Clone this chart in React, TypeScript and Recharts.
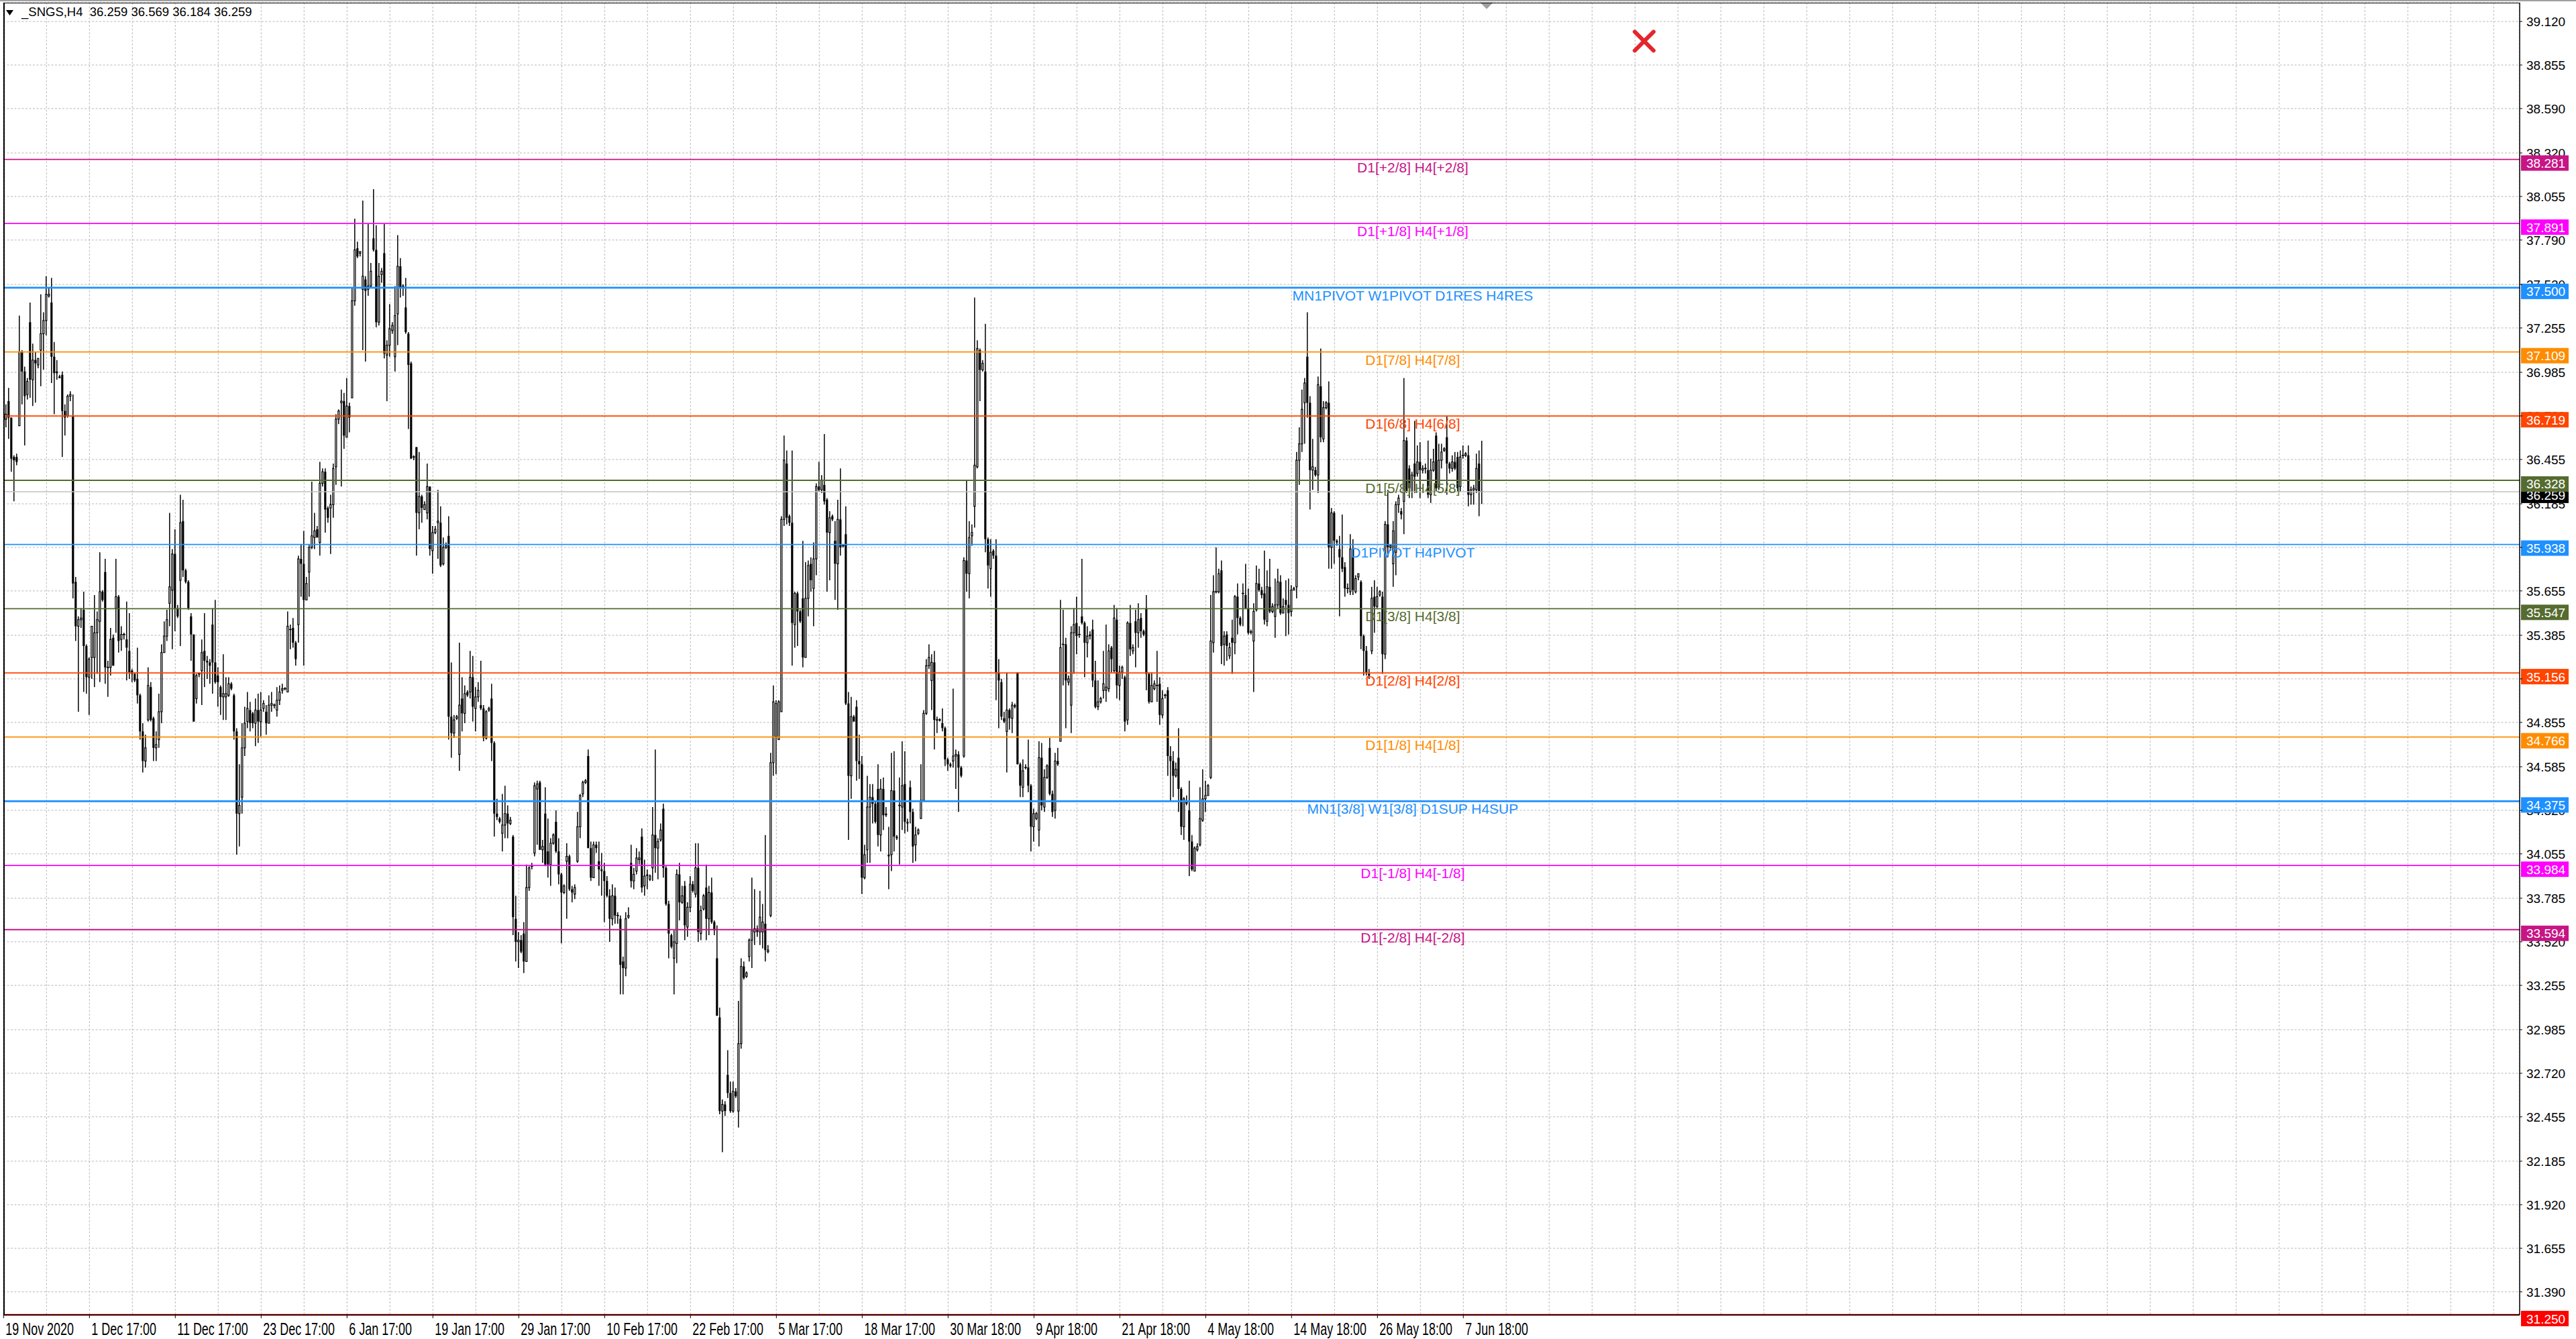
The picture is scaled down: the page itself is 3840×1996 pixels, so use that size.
import React from 'react';
import {
  ComposedChart, Bar, XAxis, YAxis, CartesianGrid, ReferenceLine, ReferenceDot
} from 'recharts';

// H4 candles of _SNGS (bar 0 = 19 Nov 2020)
const opens = [
  36.90,36.70,36.81,36.71,36.47,36.47,36.66,37.11,36.99,36.85,
  37.29,36.94,37.06,37.03,37.12,37.22,37.30,37.45,37.41,37.08,
  36.99,36.96,36.97,36.75,36.72,36.84,36.72,35.71,35.44,35.48,
  35.54,35.32,35.13,35.25,35.25,35.40,35.47,35.65,35.77,35.19,
  35.19,35.37,35.55,35.62,35.36,35.39,35.36,35.29,35.17,35.15,
  35.12,35.02,34.80,34.62,34.87,35.07,34.88,34.70,34.75,34.92,
  35.28,35.38,35.58,35.66,35.88,35.55,35.72,36.08,35.78,35.71,
  35.50,35.39,35.00,35.15,35.17,35.29,35.23,35.22,35.45,35.22,
  35.14,35.07,35.01,35.01,35.02,35.09,35.02,34.80,34.30,34.40,
  34.70,34.86,34.93,34.91,34.85,34.93,34.86,34.94,34.92,34.85,
  34.96,34.96,34.93,34.99,35.05,35.06,35.04,35.42,35.43,35.34,
  35.45,35.85,35.82,35.60,35.77,35.92,35.98,36.03,35.95,36.31,
  36.38,36.16,36.16,36.18,36.41,36.70,36.80,36.81,36.59,36.78,
  36.83,37.42,37.74,37.71,37.49,37.55,37.49,37.51,37.80,37.73,
  37.29,37.58,37.71,37.09,37.15,37.24,37.08,37.34,37.63,37.50,
  37.38,37.22,37.04,36.47,36.53,36.13,36.23,36.15,36.13,36.29,
  35.90,36.01,36.07,36.07,35.82,35.92,35.99,34.89,34.79,34.88,
  34.66,35.00,34.91,35.04,35.04,35.13,34.94,35.01,34.96,34.94,
  34.76,34.93,35.00,34.73,34.30,34.27,34.18,34.23,34.30,34.24,
  34.16,33.66,33.52,33.53,33.57,33.40,33.85,33.98,34.06,34.45,
  34.49,34.08,34.30,34.07,33.99,34.12,34.25,34.07,33.93,33.82,
  34.01,34.04,33.84,33.81,34.01,34.22,34.42,34.49,34.65,34.09,
  33.91,34.11,34.01,33.96,33.95,33.89,33.80,33.66,33.80,33.68,
  33.66,33.40,33.36,33.67,34.00,33.89,33.95,34.02,34.16,33.86,
  33.93,33.90,33.97,34.17,34.09,34.14,34.33,33.97,33.75,33.56,
  33.42,33.51,33.93,33.76,33.86,33.61,33.73,33.87,33.81,33.97,
  33.57,33.72,33.85,33.66,33.82,33.64,33.42,33.06,32.49,32.53,
  32.71,32.60,32.49,32.61,32.49,32.90,33.37,33.31,33.43,33.53,
  33.58,33.60,33.58,33.58,33.63,33.46,33.68,34.61,34.77,34.75,
  34.92,36.09,36.43,36.11,36.07,35.45,35.64,35.53,35.61,35.25,
  35.61,35.82,35.67,35.85,36.29,36.27,36.30,36.21,36.01,36.11,
  35.96,35.82,36.09,35.93,36.00,34.97,34.53,34.89,34.95,34.62,
  34.60,33.91,34.08,34.34,34.40,34.36,34.45,34.17,34.45,34.30,
  34.05,34.05,34.44,34.16,34.35,34.34,34.48,34.25,34.46,34.31,
  34.11,34.18,34.27,34.38,34.91,35.20,35.11,35.22,34.87,34.87,
  34.85,34.82,34.63,34.60,34.62,34.65,34.66,34.58,34.65,35.84,
  35.76,35.99,36.17,36.41,37.12,37.00,36.99,35.97,35.79,35.90,
  35.87,35.16,35.10,34.88,34.80,34.93,34.88,34.96,35.16,34.60,
  34.46,34.58,34.58,34.47,34.22,34.27,34.20,34.64,34.34,34.52,
  34.70,34.42,34.32,34.62,34.74,35.33,35.33,35.10,34.96,35.40,
  35.46,35.39,35.50,35.46,35.34,35.39,35.42,35.11,34.95,34.98,
  35.05,35.05,35.06,35.31,35.17,35.48,35.08,35.16,35.13,34.87,
  35.46,35.29,35.47,35.40,35.49,35.41,35.55,35.15,34.98,35.06,
  35.08,35.09,34.90,35.02,35.05,34.65,34.62,34.53,34.64,34.45,
  34.22,34.38,34.32,34.13,33.95,34.08,34.11,34.26,34.39,34.41,
  34.52,35.34,35.65,35.65,35.78,35.33,35.39,35.26,35.37,35.34,
  35.62,35.49,35.64,35.63,35.55,35.41,35.35,35.54,35.70,35.66,
  35.64,35.47,35.68,35.53,35.50,35.57,35.71,35.52,35.60,35.57,
  35.53,35.66,35.68,36.45,36.55,36.80,37.08,36.80,36.39,36.39,
  36.36,36.90,36.58,36.77,36.80,35.92,36.13,35.96,35.91,35.86,
  35.80,35.67,35.65,35.91,35.65,35.74,35.71,35.38,35.29,35.15,
  35.29,35.62,35.56,35.63,35.62,35.27,36.06,35.92,35.82,35.89,
  36.18,36.14,36.20,36.57,36.40,36.26,36.43,36.37,36.44,36.39,
  36.40,36.39,36.24,36.39,36.60,36.29,36.45,36.51,36.59,36.43,
  36.40,36.44,36.47,36.29,36.48,36.48,36.48,36.24,36.27,36.27,
  36.43,36.259,
];

const highs = [
  36.94,36.79,36.89,36.71,36.48,36.49,37.33,37.12,37.02,36.95,
  37.41,37.16,37.11,37.07,37.46,37.35,37.57,37.50,37.56,37.17,
  37.06,36.97,36.99,36.79,36.85,36.87,36.85,35.74,35.50,35.55,
  35.65,35.33,35.25,35.44,35.63,35.53,35.89,35.66,35.85,35.23,
  35.43,35.39,35.85,35.63,35.44,35.40,35.59,35.52,35.18,35.16,
  35.31,35.03,34.85,34.78,35.19,35.10,34.89,34.80,35.03,35.33,
  35.47,35.54,36.13,35.91,36.03,35.57,36.24,36.21,35.79,35.72,
  35.52,35.39,35.15,35.16,35.36,35.52,35.26,35.24,35.55,35.60,
  35.19,35.08,35.27,35.13,35.13,35.10,35.03,34.82,34.60,34.85,
  34.95,35.04,34.98,34.92,35.00,35.03,35.04,34.99,34.96,35.02,
  35.04,34.97,35.07,35.08,35.09,35.07,35.53,35.45,35.49,35.35,
  35.87,35.94,36.02,35.74,35.94,36.32,36.13,36.05,36.44,36.40,
  36.40,36.17,36.24,36.43,36.73,36.76,36.88,36.86,36.95,36.80,
  37.50,37.92,37.78,37.72,38.03,37.57,37.89,37.65,38.10,37.88,
  37.65,37.62,37.89,37.18,37.40,37.29,37.51,37.82,37.68,37.52,
  37.56,37.23,37.05,36.48,36.53,36.50,36.24,36.20,36.43,36.29,
  36.05,36.05,36.27,36.17,35.98,35.95,36.11,35.22,34.90,34.90,
  35.34,35.13,35.08,35.05,35.29,35.26,35.07,35.10,35.23,34.96,
  34.93,34.95,35.09,34.74,34.39,34.28,34.42,34.47,34.35,34.28,
  34.17,33.80,33.58,33.56,33.64,33.99,33.98,34.00,34.49,34.50,
  34.50,34.14,34.46,34.27,34.15,34.18,34.32,34.15,33.94,33.87,
  34.12,34.05,33.86,33.87,34.31,34.42,34.50,34.51,34.69,34.13,
  34.13,34.13,34.13,34.06,34.00,33.92,33.84,33.87,33.85,33.70,
  33.68,33.43,33.70,33.73,34.11,33.97,34.09,34.07,34.21,34.02,
  33.96,33.93,34.34,34.69,34.15,34.24,34.36,33.98,33.77,33.57,
  33.59,33.96,34.00,33.86,33.89,33.76,33.92,33.89,34.12,34.12,
  33.74,33.81,33.99,33.86,33.91,33.65,33.62,33.12,32.56,32.55,
  32.86,32.67,32.67,32.63,33.16,33.42,33.40,33.34,33.54,33.91,
  33.84,33.62,33.83,33.75,34.17,33.50,34.67,35.08,34.99,34.99,
  36.11,36.60,36.51,36.12,36.51,35.65,35.65,35.54,35.96,35.83,
  35.84,35.86,35.95,36.31,36.44,36.36,36.61,36.22,36.14,36.12,
  36.08,36.21,36.40,35.94,36.17,35.04,35.01,34.90,34.99,34.78,
  34.65,34.11,34.53,34.48,34.48,34.38,34.60,34.51,34.52,34.34,
  34.22,34.67,34.68,34.17,34.52,34.74,34.68,34.27,34.50,34.33,
  34.22,34.21,34.60,34.93,35.24,35.33,35.27,35.29,34.89,34.88,
  34.94,34.83,34.64,34.61,35.06,34.69,34.68,34.59,35.86,36.33,
  36.08,36.06,37.44,37.18,37.13,37.06,37.28,35.98,35.97,35.91,
  35.97,35.24,35.12,34.92,35.16,34.94,34.98,34.97,35.16,34.61,
  34.63,34.60,34.75,34.48,34.33,34.31,34.74,34.73,34.57,34.60,
  34.76,34.44,34.67,34.70,35.60,35.54,35.37,35.14,35.44,35.55,
  35.62,35.44,35.85,35.47,35.44,35.41,35.48,35.23,35.11,35.01,
  35.29,35.45,35.33,35.32,35.57,35.55,35.20,35.20,35.14,35.47,
  35.57,35.33,35.54,35.58,35.52,35.42,35.63,35.16,35.16,35.11,
  35.29,35.13,35.05,35.03,35.07,34.71,34.68,34.61,34.82,34.46,
  34.40,34.41,34.50,34.17,34.10,34.12,34.46,34.57,34.50,34.48,
  35.63,35.75,35.92,35.79,35.84,35.41,35.41,35.34,35.48,35.63,
  35.70,35.50,35.70,35.82,35.67,35.42,35.58,35.81,35.79,35.68,
  35.90,35.78,35.85,35.58,35.73,35.79,35.75,35.61,35.72,35.73,
  35.69,35.68,36.50,36.65,36.88,36.95,37.35,36.84,36.58,36.41,
  36.96,37.13,36.81,36.81,36.93,36.16,36.14,35.97,35.99,36.12,
  35.83,35.70,36.00,35.97,35.75,35.76,35.72,35.39,35.32,35.18,
  35.68,35.72,35.68,35.66,35.65,36.08,36.27,35.94,36.08,36.20,
  36.24,36.16,36.95,36.59,36.42,36.38,36.69,36.54,36.56,36.42,
  36.43,36.57,36.46,36.52,36.62,36.55,36.55,36.53,36.72,36.44,
  36.48,36.50,36.50,36.51,36.54,36.50,36.54,36.29,36.30,36.49,
  36.51,36.569,
];

const lows = [
  36.63,36.65,36.58,36.38,36.20,36.42,36.66,36.79,36.54,36.82,
  36.83,36.78,36.80,37.01,36.90,37.00,37.21,37.44,36.92,36.73,
  36.94,36.95,36.47,36.60,36.71,36.81,35.61,35.35,34.92,35.43,
  35.04,35.03,34.90,35.12,35.07,35.15,35.10,35.59,35.09,35.01,
  35.14,35.20,35.40,35.28,35.29,35.36,35.11,35.12,35.10,35.10,
  34.97,34.75,34.55,34.58,34.86,34.86,34.62,34.62,34.70,34.85,
  35.28,35.35,35.44,35.30,35.41,35.49,35.32,35.74,35.70,35.54,
  35.23,34.86,34.97,35.13,34.96,35.07,35.12,35.09,35.03,35.09,
  34.95,34.90,34.87,34.87,35.01,35.05,34.75,34.05,34.10,34.30,
  34.65,34.82,34.80,34.82,34.71,34.73,34.77,34.92,34.78,34.85,
  34.92,34.94,34.89,34.96,35.03,35.05,35.04,35.30,35.31,35.20,
  35.34,35.62,35.20,35.60,35.62,35.91,35.91,35.98,35.87,36.29,
  36.01,36.07,35.88,36.10,36.30,36.67,36.29,36.52,36.59,36.62,
  36.83,37.39,37.68,37.69,37.12,37.05,37.45,37.50,37.72,37.26,
  37.27,37.53,37.07,36.81,37.08,37.22,36.99,37.15,37.44,37.45,
  37.22,36.64,36.46,36.45,35.87,36.03,36.07,36.15,36.09,35.87,
  35.76,36.00,35.85,35.80,35.81,35.91,34.75,34.64,34.76,34.87,
  34.56,34.80,34.85,35.01,35.00,34.86,34.80,34.98,34.93,34.74,
  34.75,34.92,34.62,34.16,34.26,34.24,34.07,34.15,34.15,34.23,
  33.56,33.40,33.36,33.45,33.33,33.40,33.83,33.96,34.04,34.11,
  34.08,34.00,33.98,33.91,33.86,34.11,34.06,33.87,33.51,33.81,
  33.66,33.83,33.76,33.78,34.00,34.15,34.40,34.48,34.09,33.89,
  33.91,34.06,33.86,33.80,33.64,33.79,33.52,33.62,33.63,33.63,
  33.20,33.20,33.31,33.66,33.85,33.84,33.93,33.99,33.82,33.80,
  33.84,33.89,33.89,33.94,33.90,34.13,33.91,33.74,33.42,33.48,
  33.20,33.39,33.65,33.75,33.53,33.55,33.70,33.82,33.79,33.52,
  33.53,33.71,33.53,33.56,33.63,33.56,33.07,32.47,32.24,32.46,
  32.57,32.48,32.48,32.57,32.39,32.87,33.29,33.30,33.40,33.36,
  33.50,33.55,33.50,33.48,33.40,33.45,33.67,34.53,34.54,34.75,
  34.92,36.05,36.06,36.05,35.20,35.31,35.32,35.46,35.19,35.25,
  35.50,35.65,35.44,35.75,36.26,36.25,36.18,35.65,35.72,36.08,
  35.60,35.54,35.87,35.92,34.96,34.14,34.39,34.86,34.50,34.51,
  33.81,33.90,34.00,34.00,34.24,34.24,34.10,34.07,34.20,34.28,
  33.84,33.95,34.07,34.14,33.99,34.20,34.18,34.19,34.24,34.00,
  34.01,34.17,34.27,34.38,34.90,35.18,34.93,34.69,34.79,34.86,
  34.80,34.59,34.56,34.58,34.58,34.45,34.31,34.52,34.64,35.65,
  35.61,35.93,36.04,36.40,36.81,36.99,35.89,35.67,35.62,35.85,
  34.99,34.82,34.87,34.85,34.55,34.81,34.79,34.94,34.60,34.40,
  34.40,34.57,34.43,34.07,34.13,34.26,34.10,34.32,34.31,34.51,
  34.41,34.28,34.27,34.59,34.74,35.08,34.82,35.08,34.79,35.15,
  35.27,35.37,35.45,35.13,35.25,35.36,35.07,34.94,34.93,34.97,
  35.00,34.98,35.04,35.16,35.16,35.00,34.99,35.12,34.80,34.84,
  35.26,35.27,35.19,35.31,35.37,35.38,35.05,34.97,34.98,35.05,
  34.98,34.84,34.88,35.00,34.53,34.38,34.40,34.52,34.31,34.17,
  34.14,34.35,33.92,33.95,33.95,34.07,34.10,34.25,34.31,34.41,
  34.51,35.28,35.64,35.64,35.21,35.20,35.23,35.24,35.15,35.27,
  35.39,35.44,35.44,35.55,35.39,35.39,35.04,35.53,35.65,35.61,
  35.45,35.44,35.52,35.52,35.37,35.55,35.51,35.52,35.38,35.39,
  35.50,35.66,35.61,36.30,36.50,36.55,36.71,36.15,36.27,36.35,
  36.25,36.56,36.56,36.76,35.79,35.79,35.82,35.93,35.50,35.77,
  35.62,35.64,35.63,35.63,35.64,35.72,35.30,35.14,35.14,35.12,
  35.27,35.40,35.55,35.62,35.15,35.24,35.86,35.90,35.68,35.75,
  36.13,36.09,36.00,36.25,36.22,36.22,36.25,36.35,36.22,36.37,
  36.37,36.22,36.19,36.38,36.26,36.27,36.40,36.50,36.24,36.37,
  36.38,36.39,36.26,36.26,36.46,36.47,36.17,36.18,36.18,36.25,
  36.11,36.184,
];

const closes = [
  36.65,36.73,36.71,36.46,36.45,36.44,37.11,36.99,36.84,36.93,
  36.94,37.06,37.04,37.07,37.22,37.30,37.46,37.46,37.08,36.98,
  36.98,36.95,36.75,36.71,36.84,36.85,35.70,35.44,35.48,35.49,
  35.32,35.13,35.24,35.44,35.40,35.48,35.65,35.60,35.19,35.19,
  35.36,35.20,35.62,35.35,35.39,35.39,35.31,35.16,35.15,35.11,
  35.02,34.80,34.62,34.70,35.08,34.87,34.70,34.72,34.92,35.28,
  35.38,35.48,35.68,35.88,35.55,35.50,36.07,35.78,35.71,35.55,
  35.39,34.86,35.14,35.15,35.28,35.23,35.22,35.20,35.22,35.10,
  35.10,35.01,35.03,35.03,35.09,35.06,34.80,34.30,34.35,34.70,
  34.85,34.94,34.85,34.85,34.93,34.86,34.93,34.97,34.85,34.96,
  34.97,34.96,34.99,35.04,35.06,35.06,35.44,35.42,35.34,35.24,
  35.85,35.82,35.60,35.70,35.92,35.99,36.02,35.98,36.31,36.38,
  36.15,36.10,36.18,36.40,36.70,36.75,36.81,36.60,36.78,36.71,
  37.42,37.73,37.69,37.72,37.57,37.48,37.51,37.60,37.73,37.29,
  37.57,37.60,37.10,37.15,37.25,37.27,37.33,37.63,37.50,37.51,
  37.23,37.03,36.46,36.47,36.13,36.23,36.16,36.18,36.29,35.91,
  36.01,36.03,36.08,35.81,35.92,35.93,34.89,34.79,34.87,34.89,
  34.96,34.91,35.03,35.02,35.13,34.95,35.01,35.05,34.94,34.76,
  34.92,34.94,34.73,34.30,34.28,34.25,34.23,34.30,34.24,34.26,
  33.67,33.52,33.53,33.46,33.40,33.85,33.97,33.98,34.47,34.48,
  34.08,34.10,33.99,33.99,34.12,34.17,34.07,33.93,33.82,33.86,
  34.04,33.84,33.82,33.85,34.22,34.41,34.49,34.50,34.09,33.91,
  34.11,34.09,33.96,33.95,33.89,33.80,33.66,33.80,33.68,33.68,
  33.38,33.36,33.66,33.68,33.89,33.93,34.03,34.03,33.85,33.92,
  33.92,33.92,34.17,34.09,34.13,34.20,33.97,33.75,33.57,33.49,
  33.52,33.93,33.76,33.80,33.62,33.73,33.87,33.83,33.97,33.58,
  33.71,33.80,33.66,33.82,33.64,33.59,33.07,32.49,32.53,32.49,
  32.60,32.49,32.61,32.58,32.90,33.37,33.30,33.33,33.53,33.59,
  33.60,33.58,33.67,33.64,33.47,33.47,34.61,34.98,34.97,34.98,
  36.09,36.45,36.10,36.07,35.46,35.64,35.53,35.47,35.25,35.61,
  35.81,35.72,35.85,36.29,36.27,36.33,36.20,36.01,36.10,36.09,
  35.82,36.09,35.92,35.93,34.97,34.53,34.89,34.86,34.62,34.60,
  33.91,34.05,34.34,34.40,34.36,34.25,34.17,34.45,34.29,34.29,
  34.04,34.44,34.16,34.15,34.35,34.47,34.25,34.24,34.31,34.10,
  34.17,34.20,34.38,34.91,35.20,35.25,35.22,34.87,34.87,34.87,
  34.82,34.63,34.60,34.59,34.65,34.66,34.58,34.53,35.84,35.76,
  35.98,36.01,36.42,37.13,37.00,37.04,35.97,35.81,35.89,35.87,
  35.16,35.11,34.89,34.86,34.93,34.88,34.96,34.95,34.60,34.47,
  34.56,34.58,34.47,34.22,34.30,34.30,34.64,34.35,34.52,34.59,
  34.42,34.31,34.62,34.60,35.31,35.33,35.11,35.12,35.40,35.45,
  35.38,35.39,35.46,35.34,35.38,35.38,35.11,34.95,34.98,35.00,
  35.09,35.07,35.29,35.24,35.49,35.08,35.16,35.19,34.86,35.46,
  35.30,35.31,35.40,35.48,35.41,35.39,35.15,34.98,35.08,35.09,
  35.08,34.90,35.00,35.02,34.65,34.62,34.53,34.57,34.45,34.22,
  34.39,34.36,34.13,33.96,34.09,34.10,34.27,34.39,34.41,34.47,
  35.35,35.65,35.65,35.76,35.32,35.38,35.32,35.31,35.34,35.62,
  35.49,35.45,35.64,35.55,35.40,35.40,35.53,35.70,35.66,35.63,
  35.48,35.68,35.53,35.56,35.57,35.71,35.52,35.56,35.57,35.52,
  35.66,35.67,36.45,36.55,36.76,36.92,36.80,36.39,36.41,36.36,
  36.91,36.59,36.77,36.80,35.92,36.13,35.96,35.95,35.86,35.79,
  35.67,35.67,35.91,35.66,35.73,35.76,35.38,35.29,35.16,35.14,
  35.61,35.56,35.62,35.65,35.27,36.06,35.92,35.93,36.02,36.18,
  36.22,36.12,36.57,36.26,36.28,36.36,36.35,36.44,36.39,36.40,
  36.40,36.24,36.39,36.44,36.28,36.45,36.50,36.52,36.43,36.40,
  36.44,36.40,36.28,36.47,36.48,36.49,36.24,36.27,36.28,36.40,
  36.26,36.259,
];

// time scale labels (bar index -> label)
const timeLabelBars = [0, 32, 64, 96, 128, 160, 192, 224, 256, 288, 320, 352, 384, 416, 448, 480, 512, 544];
const timeLabels = [
  '19 Nov 2020', '1 Dec 17:00', '11 Dec 17:00', '23 Dec 17:00', '6 Jan 17:00', '19 Jan 17:00',
  '29 Jan 17:00', '10 Feb 17:00', '22 Feb 17:00', '5 Mar 17:00', '18 Mar 17:00', '30 Mar 18:00',
  '9 Apr 18:00', '21 Apr 18:00', '4 May 18:00', '14 May 18:00', '26 May 18:00', '7 Jun 18:00',
];

const priceTicks = [
  39.12, 38.855, 38.59, 38.32, 38.055, 37.79, 37.52, 37.255, 36.985, 36.72,
  36.455, 36.185, 35.92, 35.655, 35.385, 35.12, 34.855, 34.585, 34.32, 34.055,
  33.785, 33.52, 33.255, 32.985, 32.72, 32.455, 32.185, 31.92, 31.655, 31.39,
];

// Murrey math / pivot levels
const levelPrices = [38.281, 37.891, 37.5, 37.109, 36.719, 36.328, 35.938, 35.547, 35.156, 34.766, 34.375, 33.984, 33.594];
const levelNames = [
  'D1[+2/8] H4[+2/8]', 'D1[+1/8] H4[+1/8]', 'MN1PIVOT W1PIVOT D1RES H4RES', 'D1[7/8] H4[7/8]',
  'D1[6/8] H4[6/8]', 'D1[5/8] H4[5/8]', 'D1PIVOT H4PIVOT', 'D1[3/8] H4[3/8]', 'D1[2/8] H4[2/8]',
  'D1[1/8] H4[1/8]', 'MN1[3/8] W1[3/8] D1SUP H4SUP', 'D1[-1/8] H4[-1/8]', 'D1[-2/8] H4[-2/8]',
];
const levelColors = ['#C71585', '#FF00FF', '#1E90FF', '#FF8C00', '#FF4500', '#556B2F', '#1E90FF', '#556B2F', '#FF4500', '#FF8C00', '#1E90FF', '#FF00FF', '#C71585'];
const levelWidths = [1.8, 1.8, 2.8, 1.8, 1.8, 1.8, 1.8, 1.8, 1.8, 1.8, 2.8, 1.8, 1.8];

const bottomLevel = 31.25;
const deleteMark = { bar: 611.4, price: 39.0 };
const shiftMark = { bar: 552.7, price: 39.22 };

const FONT = "'Liberation Sans', Arial, sans-serif";
const X_DOMAIN: [number, number] = [-0.075, 937.675];
const Y_DOMAIN: [number, number] = [31.25, 39.2343];
const gridBars = Array.from({ length: 59 }, (_, k) => k * 16);

const candles = opens.map((o, i) => ({ i, o, h: highs[i], l: lows[i], c: closes[i] }));
const last = candles[candles.length - 1];

const Candle = (props: any) => {
  const { x, y, width, height, payload } = props;
  if (x == null || y == null || !payload) return null;
  const { o, h, l, c } = payload;
  const top = Math.min(y, y + height);
  const bot = Math.max(y, y + height);
  const k = h > l ? (bot - top) / (h - l) : 0;
  const py = (v: number) => top + (h - v) * k;
  const cx = x + width / 2;
  const yo = py(o);
  const yc = py(c);
  const bTop = Math.min(yo, yc);
  const bBot = Math.max(yo, yc);
  const bh = bBot - bTop;
  let body;
  if (bh < 1.6) {
    body = <line x1={cx - 2} x2={cx + 2} y1={(bTop + bBot) / 2} y2={(bTop + bBot) / 2} stroke="#000" strokeWidth={1.5} />;
  } else if (c >= o) {
    body = <rect x={cx - 1.05} y={bTop} width={2.1} height={bh} fill="#fff" stroke="#000" strokeWidth={1.2} />;
  } else {
    body = <rect x={cx - 1.6} y={bTop} width={3.2} height={bh} fill="#000" />;
  }
  return (
    <g>
      <line x1={cx} x2={cx} y1={top} y2={bot} stroke="#000" strokeWidth={1.5} />
      {body}
    </g>
  );
};

const levelShape = (name: string, color: string, width: number, boxColor: string, boxText: string) => (p: any) => {
  const { x1, x2, y1 } = p;
  if (x1 == null || y1 == null) return null;
  const left = Math.min(x1, x2);
  const right = Math.max(x1, x2);
  return (
    <g>
      <line x1={left} x2={right} y1={y1} y2={y1} stroke={color} strokeWidth={width} />
      {name ? (
        <text x={left + (right - left) * 0.5601} y={y1 + 19} textAnchor="middle" fill={color}
          fontSize={21} fontFamily={FONT}>{name}</text>
      ) : null}
      <rect x={right + 2} y={y1 - 6} width={71} height={23} fill={boxColor} />
      <text x={right + 10} y={y1 + 12.5} fill="#fff" fontSize={19} fontFamily={FONT}>{boxText}</text>
    </g>
  );
};

// price scale text, drawn as a reference element so the level tags can cover it as in MT4
const tickTextShape = (value: number) => (p: any) => {
  const { x1, x2, y1 } = p;
  if (x1 == null || y1 == null) return null;
  const right = Math.max(x1, x2);
  return (
    <text x={right + 10} y={y1 + 7} fill="#000" fontSize={19} fontFamily={FONT} textAnchor="start">
      {value.toFixed(3)}
    </text>
  );
};

const TimeTick = (p: any) => {
  const idx = timeLabelBars.indexOf(p.payload.value);
  if (idx < 0) return null;
  return (
    <g>
      <line x1={p.x} x2={p.x} y1={p.y} y2={p.y + 5} stroke="#000" strokeWidth={1} />
      <text transform={`translate(${p.x + 3},${p.y + 30}) scale(0.69,1)`} fill="#000" fontSize={26} fontFamily={FONT}>
        {timeLabels[idx]}
      </text>
    </g>
  );
};

const App: React.FC = () => {
  const title = `_SNGS,H4  ${last.o.toFixed(3)} ${last.h.toFixed(3)} ${last.l.toFixed(3)} ${last.c.toFixed(3)}`;
  return (
    <div style={{ position: 'absolute', left: 0, top: 0, width: 3840, height: 1996, background: '#fff', overflow: 'hidden' }}>
      <ComposedChart width={3840} height={1996} data={candles} margin={{ top: 4, right: 0, bottom: 0, left: 5 }}>
        <CartesianGrid stroke="#B8B8B8" strokeDasharray="3 2.5" />
        <XAxis type="number" dataKey="i" domain={X_DOMAIN} allowDataOverflow ticks={gridBars} interval={0}
          height={36} tickSize={0} tickMargin={0} tickLine={false} axisLine={{ stroke: '#000', strokeWidth: 1.5 }}
          tick={(p: any) => <TimeTick {...p} />} />
        <YAxis orientation="right" type="number" domain={Y_DOMAIN} allowDataOverflow ticks={priceTicks} interval={0}
          width={84} tickSize={4} tickMargin={6} tickLine={{ stroke: '#000' }} axisLine={{ stroke: '#000', strokeWidth: 1.5 }}
          tick={() => <g />} />
        {priceTicks.map((v) => (
          <ReferenceLine key={`t${v}`} y={v} shape={tickTextShape(v)} />
        ))}
        <ReferenceLine y={last.c} shape={levelShape('', '#C0C0C0', 1.5, '#000', last.c.toFixed(3))} />
        {levelPrices.map((v, k) => (
          <ReferenceLine key={v} y={v}
            shape={levelShape(levelNames[k], levelColors[k], levelWidths[k], levelColors[k], v.toFixed(3))} />
        ))}
        <ReferenceLine y={bottomLevel} shape={levelShape('', '#FF0000', 2.4, '#FF0000', bottomLevel.toFixed(3))} />
        <Bar dataKey={(d: any) => [d.l, d.h]} shape={Candle} barSize={3} isAnimationActive={false} />
        <ReferenceDot x={deleteMark.bar} y={deleteMark.price} r={0}
          shape={(p: any) => (
            <g stroke="#E3262E" strokeWidth={6} strokeLinecap="round">
              <line x1={p.cx - 14} y1={p.cy - 14} x2={p.cx + 14} y2={p.cy + 14} />
              <line x1={p.cx + 14} y1={p.cy - 14} x2={p.cx - 14} y2={p.cy + 14} />
            </g>
          )} />
        <ReferenceDot x={shiftMark.bar} y={shiftMark.price} r={0}
          shape={(p: any) => (
            <path d={`M${p.cx - 10},${p.cy - 4} L${p.cx + 10},${p.cy - 4} L${p.cx},${p.cy + 6} Z`} fill="#A0A0A0" />
          )} />
      </ComposedChart>
      <div style={{ position: 'absolute', left: 0, top: 0, width: 3840, height: 2, background: '#A0A0A0' }} />
      <div style={{ position: 'absolute', left: 5, top: 4, width: 3751, height: 1956, borderTop: '1.5px solid #000', borderLeft: '2px solid #000', boxSizing: 'border-box', pointerEvents: 'none' }} />
      <svg style={{ position: 'absolute', left: 9, top: 15 }} width={12} height={9}>
        <path d="M0,0 L11,0 L5.5,8 Z" fill="#000" />
      </svg>
      <div style={{ position: 'absolute', left: 32, top: 9, fontFamily: FONT, fontSize: 18.5, lineHeight: 1, whiteSpace: 'pre', color: '#000' }}>
        {title}
      </div>
    </div>
  );
};

export default App;
